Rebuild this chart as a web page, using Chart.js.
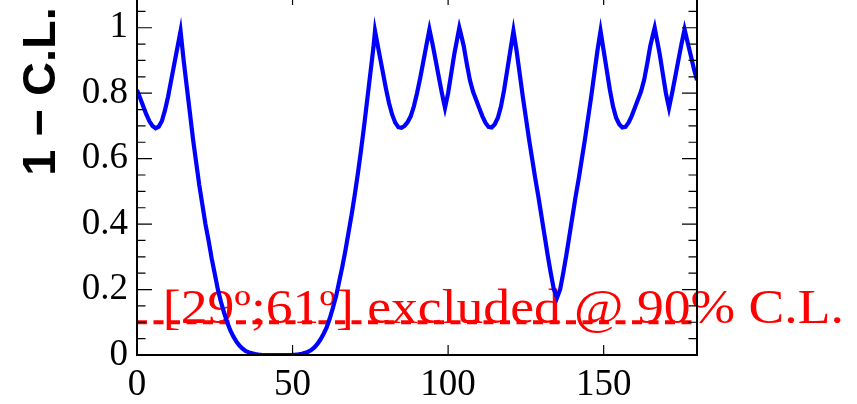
<!DOCTYPE html>
<html><head><meta charset="utf-8">
<script src="https://cdn.jsdelivr.net/npm/chart.js@4/dist/chart.umd.min.js"></script>
<style>
html,body{margin:0;padding:0;background:#fff;overflow:hidden;width:857px;height:404px}
#wrap{position:absolute;left:0;top:-20px;width:857px;height:424px}
</style></head>
<body><div id="wrap"><canvas id="c" width="857" height="424"></canvas></div>
<script>
// ---- data ----
const angles = [0,1,2,3,4,5,6,7,8,9,10,11,12,13,14,15,16,17,18,19,20,21,22,23,24,25,26,27,28,29,30,31,32,33,34,35,36,37,38,39,40,42,44,46,48,50,51,52,53,54,55,56,57,58,59,60,61,62,63,64,65,66,67,68,69,70,71,72,73,74,75,76,76.5,77,78,79,80,81,82,83,84,85,86,87,88,89,90,91,92,93,94,95,96,97,98,99,100,101,102,103,103.6,104,105,106,107,108,109,110,111,112,113,114,115,116,117,118,119,120,121,122,123,124,125,126,127,128,129,130,131,132,133,134,135,136,137,138,139,140,141,142,143,144,145,146,147,148,149,150,151,152,153,154,155,156,157,158,159,160,161,162,163,164,165,166,166.4,167,168,169,170,171,172,173,174,175,176,177,178,179,180];
const oneMinusCL = [0.81,0.785,0.76,0.735,0.714,0.700,0.693,0.698,0.715,0.748,0.79,0.84,0.89,0.94,0.99,0.90,0.82,0.74,0.66,0.59,0.52,0.46,0.40,0.35,0.295,0.248,0.20,0.162,0.129,0.10,0.075,0.056,0.04,0.028,0.019,0.012,0.008,0.005,0.003,0.0015,0.0005,0,0,0,0,0.0005,0.001,0.002,0.004,0.0065,0.01,0.015,0.023,0.034,0.048,0.065,0.085,0.113,0.145,0.18,0.225,0.27,0.32,0.375,0.43,0.49,0.555,0.625,0.70,0.78,0.86,0.94,0.99,0.965,0.915,0.865,0.815,0.77,0.735,0.71,0.696,0.694,0.70,0.712,0.73,0.76,0.80,0.845,0.895,0.945,0.995,0.95,0.90,0.85,0.80,0.755,0.80,0.86,0.92,0.97,1.0,0.985,0.945,0.89,0.84,0.805,0.78,0.755,0.73,0.71,0.697,0.695,0.705,0.725,0.76,0.81,0.87,0.93,0.99,0.93,0.86,0.79,0.725,0.66,0.60,0.54,0.485,0.425,0.365,0.305,0.25,0.20,0.175,0.20,0.25,0.305,0.365,0.425,0.485,0.54,0.60,0.66,0.725,0.79,0.86,0.93,0.99,0.93,0.87,0.81,0.76,0.725,0.705,0.695,0.697,0.71,0.73,0.755,0.78,0.805,0.84,0.89,0.945,0.985,1.0,0.97,0.92,0.86,0.80,0.755,0.80,0.85,0.90,0.95,0.995,0.955,0.915,0.875,0.84];
const clLevel = 0.1;
const clLineRange = [0, 180];
const xTickValues = [0, 50, 100, 150];
const yTickValues = [0, 0.2, 0.4, 0.6, 0.8, 1];
const yAxisTitle = '1 \u2212 C.L.';
const noteText = '[29\u00BA;61\u00BA] excluded @ 90% C.L.';
const notePos = [8.3, 0.097];

// ---- plugins ----
const frameTicks = {
  id: 'frameTicks',
  afterDraw(chart) {
    const {ctx, chartArea: a, scales: {x, y}} = chart;
    ctx.save();
    ctx.strokeStyle = '#000';
    ctx.lineWidth = 1.2;
    ctx.beginPath();
    for (let i = 0; i <= 22; i++) {
      const p = y.getPixelForValue(i * 0.05);
      const len = (i % 4 === 0) ? 15 : 8.5;
      ctx.moveTo(a.left, p); ctx.lineTo(a.left + len, p);
      ctx.moveTo(a.right, p); ctx.lineTo(a.right - len, p);
    }
    for (const v of xTickValues) {
      const p = x.getPixelForValue(v);
      ctx.moveTo(p, a.bottom); ctx.lineTo(p, a.bottom - 10);
      ctx.moveTo(p, a.top); ctx.lineTo(p, a.top + 10);
    }
    ctx.stroke();
    ctx.lineWidth = 2;
    ctx.strokeRect(a.left, a.top, a.right - a.left, a.bottom - a.top);
    // y axis title
    ctx.fillStyle = '#000';
    ctx.font = 'bold 47px "Liberation Sans"';
    ctx.textAlign = 'center';
    ctx.textBaseline = 'alphabetic';
    ctx.translate(55, 111.5);
    ctx.rotate(-Math.PI / 2);
    ctx.fillText(yAxisTitle, 0, 0);
    ctx.restore();
  }
};
const note = {
  id: 'note',
  beforeDatasetsDraw(chart) {
    const {ctx, scales: {x, y}} = chart;
    ctx.save();
    ctx.fillStyle = '#ff0000';
    ctx.font = '49px "Liberation Serif"';
    ctx.textAlign = 'left';
    ctx.textBaseline = 'alphabetic';
    const w = ctx.measureText(noteText).width;
    ctx.translate(x.getPixelForValue(notePos[0]), y.getPixelForValue(notePos[1]));
    ctx.scale(681 / w, 1);
    ctx.fillText(noteText, 0, 0);
    ctx.restore();
  }
};

const tickFont = {family: '"Liberation Serif"', size: 37};
new Chart(document.getElementById('c'), {
  type: 'line',
  data: {
    datasets: [{
      data: angles.map((a, i) => ({x: a, y: oneMinusCL[i]})),
      borderColor: '#0000ff', borderWidth: 4.2, pointRadius: 0, tension: 0, fill: false
    }, {
      data: clLineRange.map(a => ({x: a, y: clLevel})),
      borderColor: '#ff0000', borderWidth: 4, borderDash: [10, 6.5], pointRadius: 0, fill: false
    }]
  },
  options: {
    responsive: false, animation: false, devicePixelRatio: 1,
    layout: {padding: {top: 15, right: 160, left: 0, bottom: 0}},
    plugins: {legend: {display: false}, tooltip: {enabled: false}},
    scales: {
      x: {
        type: 'linear', min: 0, max: 180,
        grid: {display: false, drawTicks: false}, border: {display: false},
        afterBuildTicks: s => { s.ticks = xTickValues.map(v => ({value: v})); },
        afterFit: s => { s.height = 49; s.paddingLeft = 0; s.paddingRight = 0; },
        ticks: {font: tickFont, color: '#000', padding: 8, maxRotation: 0, autoSkip: false, callback: v => String(v)}
      },
      y: {
        type: 'linear', min: 0, max: 1.1,
        grid: {display: false, drawTicks: false}, border: {display: false},
        afterBuildTicks: s => { s.ticks = yTickValues.map(v => ({value: v})); },
        afterFit: s => { s.width = 137; s.paddingTop = 0; s.paddingBottom = 0; },
        ticks: {font: tickFont, color: '#000', padding: 9, autoSkip: false, callback: v => String(v)}
      }
    }
  },
  plugins: [note, frameTicks]
});
</script>
</body></html>
